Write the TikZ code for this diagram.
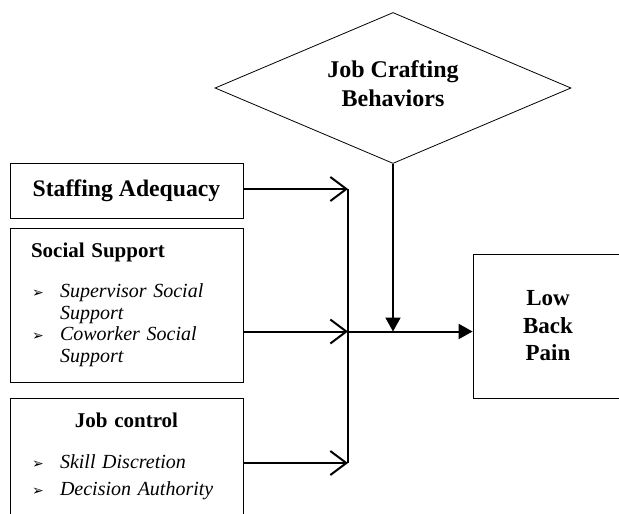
\documentclass[tikz,border=0pt]{standalone}
\usepackage{fontspec}
\setmainfont{Liberation Serif}
\newfontfamily\dingfont{DejaVu Sans}
\usetikzlibrary{arrows.meta,shapes.geometric}

\newcommand{\arrowbullet}{\makebox[29pt][l]{\hspace{1pt}{\dingfont\upshape\fontsize{14}{14}\selectfont ➢}}}
\newcommand{\headfont}{\fontsize{21}{25}\selectfont\bfseries\upshape}

\begin{document}
\begin{tikzpicture}[x=1pt,y=-1pt,every node/.style={align=center},
                    box/.style={draw,rectangle,line width=0.8pt,inner sep=0pt}]
  \tikzstyle{feed}=[line width=2pt,-{Straight Barb[length=16pt,width=24pt]}]
  \tikzstyle{lead}=[line width=2pt,-{Triangle[length=14pt,width=15pt]}]
  \tikzstyle{bus}=[line width=2pt]

  \clip (0,0) rectangle (619,514);

  \node[draw,diamond,aspect=2.357,minimum width=356pt,minimum height=151pt,
        inner sep=0pt,line width=0.8pt,font=\fontsize{24}{29}\selectfont\bfseries] (craft) at (393,88)
        {Job Crafting\\Behaviors\rule[-9pt]{0pt}{0pt}};

  \node[box,minimum width=233pt,minimum height=55pt,
        font=\fontsize{23.7}{28}\selectfont\bfseries] (staff) at (126.5,190.5)
        {Staffing Adequacy};

  \node[box,text width=191pt,inner xsep=21pt,minimum height=154pt,align=left,
        font=\fontsize{20}{21.5}\selectfont\itshape] (social) at (126.5,305)
        {{\headfont Social Support}\\[18.5pt]
         \arrowbullet Supervisor Social\\
         \hspace*{29pt}Support\\
         \arrowbullet Coworker Social\\
         \hspace*{29pt}Support};

  \node[box,anchor=north,text width=191pt,inner xsep=21pt,inner ysep=14.7pt,align=left,
        font=\fontsize{20}{27}\selectfont\itshape] (jobctl) at (126.5,398)
        {\makebox[191pt]{\headfont Job control}\\[14pt]
         \arrowbullet Skill Discretion\\
         \arrowbullet Decision Authority\rule[-25pt]{0pt}{0pt}};

  \node[box,minimum width=150pt,minimum height=144pt,
        font=\fontsize{23}{27.5}\selectfont\bfseries] (pain) at (548,326)
        {Low\\Back\\Pain};

  \coordinate (j1) at (348,189);
  \coordinate (j2) at (348,331.5);
  \coordinate (j3) at (348,463);

  \draw[feed] (staff.east |- j1) -- (j1);
  \draw[feed] (social.east |- j2) -- (j2);
  \draw[feed] (jobctl.east |- j3) -- (j3);
  \draw[bus] (j1) -- (j3);
  \draw[lead] (j2) -- (pain.west |- j2);
  \draw[lead] (craft.south) -- (craft.south |- j2);
\end{tikzpicture}
\end{document}
